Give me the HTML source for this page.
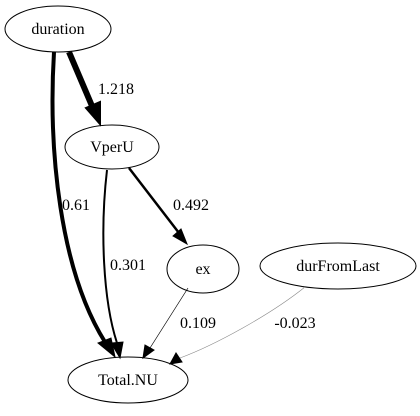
<!DOCTYPE html>
<html><head><style>body{margin:0;background:#fff}</style></head><body>
<svg width="420" height="411" viewBox="0 0 420 411" xmlns="http://www.w3.org/2000/svg" font-family="Liberation Serif, serif" font-size="16">
<rect width="420" height="411" fill="#fff"/>
<g fill="none" stroke="#000">
<ellipse cx="58" cy="29" rx="53" ry="23"/>
<ellipse cx="112" cy="147" rx="47" ry="22"/>
<ellipse cx="203" cy="269" rx="36" ry="24"/>
<ellipse cx="338" cy="266" rx="78" ry="23"/>
<ellipse cx="128" cy="380" rx="60" ry="23"/>
<path d="M69,52 L92,106" stroke-width="6"/>
<path d="M54,52 C48,150 60,270 105,342" stroke-width="4"/>
<path d="M107,170 C100,230 103,300 117,343" stroke-width="2"/>
<path d="M129,168 L179,233" stroke-width="2.5"/>
<path d="M188,288 L150,348" stroke-width="0.7"/>
<path d="M305,287 C270,315 215,345 180,358" stroke="#888" stroke-width="0.6"/>
</g>
<g fill="#000" stroke="#000">
<polygon points="86,108 100,124 100,102" stroke-width="2"/>
<polygon points="98,343 115,357 111,338"/>
<polygon points="111,343 120,358 123,342"/>
<polygon points="173,236 187,244 181,229"/>
<polygon points="145,345 143,358 154,350"/>
<polygon points="176,353 170,364 182,362"/>
</g>
<g text-anchor="middle">
<text x="58" y="34">duration</text>
<text x="112" y="152">VperU</text>
<text x="203" y="274">ex</text>
<text x="338" y="271">durFromLast</text>
<text x="128" y="385">Total.NU</text>
<text x="116" y="94">1.218</text>
<text x="76" y="210">0.61</text>
<text x="128" y="270">0.301</text>
<text x="191" y="210">0.492</text>
<text x="198" y="328">0.109</text>
<text x="295" y="328">-0.023</text>
</g>
</svg>
</body></html>
